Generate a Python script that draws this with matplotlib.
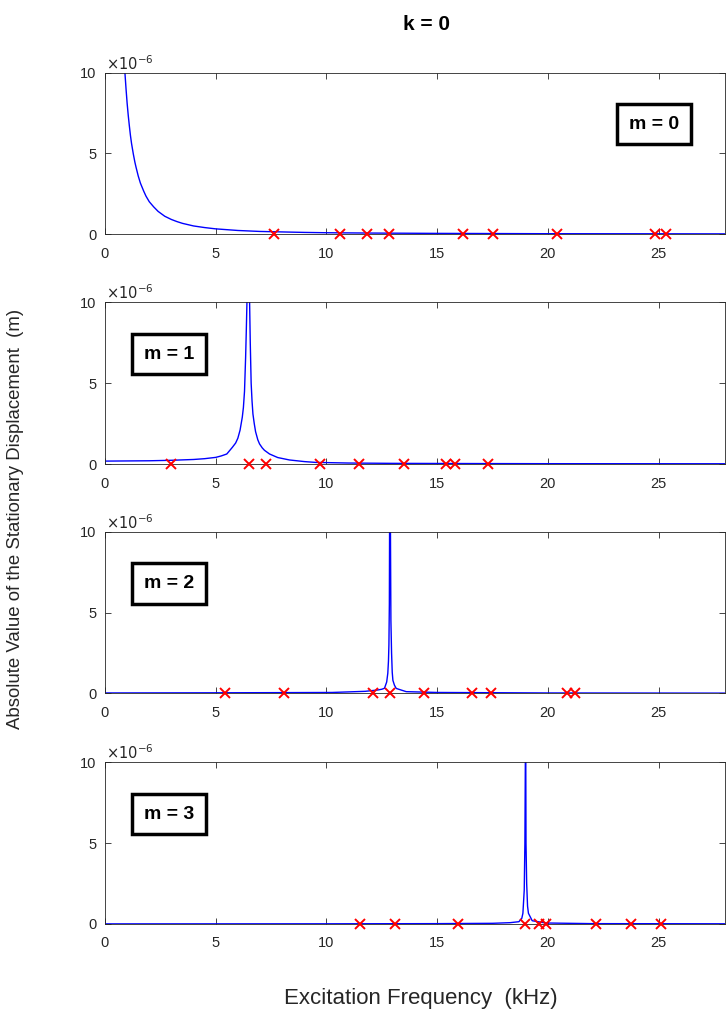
import matplotlib
matplotlib.use("Agg")
import matplotlib.pyplot as plt

plt.rcParams['font.family'] = ['Liberation Sans', 'DejaVu Sans']

# curve samples (kHz, 1e-6 m)
f0 = [0.9, 0.95, 1.0, 1.05, 1.1, 1.15, 1.2, 1.28, 1.35, 1.4, 1.5, 1.6, 1.75, 1.85, 2.0, 2.2, 2.4, 2.55, 2.7, 3.0,
      3.25, 3.5, 4.0, 4.5, 5.0, 5.5, 6, 7, 8, 9, 10, 12, 15, 20, 25, 28]
y0 = [10, 9.0, 8.1, 7.35, 6.7, 6.1, 5.6, 4.95, 4.45, 4.15, 3.6, 3.15, 2.65, 2.35, 2.0, 1.68, 1.4, 1.25, 1.1, 0.9,
      0.77, 0.66, 0.5, 0.4, 0.32, 0.27, 0.22, 0.16, 0.13, 0.1, 0.08, 0.06, 0.04, 0.02, 0.015, 0.01]

f1 = [0, 2, 3, 4, 4.5, 5, 5.25, 5.5, 5.75, 5.9, 6.0, 6.1, 6.2, 6.25, 6.3, 6.35, 6.38, 6.41, 6.47, 6.53, 6.56, 6.6,
      6.64, 6.68, 6.74, 6.8, 6.9, 6.98, 7.1, 7.2, 7.43, 7.8, 8.33, 9.0, 9.5, 11, 13, 16, 20, 28]
y1 = [0.18, 0.2, 0.23, 0.28, 0.33, 0.41, 0.5, 0.62, 1.03, 1.3, 1.6, 2.1, 2.9, 3.5, 4.5, 6.6, 8.2, 10, 60, 10, 7.5, 5.0,
      3.9, 3.1, 2.5, 2.0, 1.5, 1.24, 1.0, 0.85, 0.62, 0.4, 0.25, 0.15, 0.1, 0.06, 0.04, 0.03, 0.02, 0.015]

f2 = [0, 5, 8, 10.25, 11.75, 12.3, 12.5, 12.62, 12.72, 12.77, 12.8, 12.82, 12.84, 12.85, 12.87, 12.89, 12.91, 12.94,
      12.97, 13.0, 13.07, 13.15, 13.6, 15, 20, 28]
y2 = [0.02, 0.03, 0.04, 0.05, 0.12, 0.2, 0.25, 0.31, 0.7, 1.24, 2.0, 3.0, 5.5, 10, 60, 10, 4.5, 2.5,
      1.3, 0.8, 0.5, 0.3, 0.1, 0.05, 0.02, 0.01]

f3 = [0, 10, 15, 17.5, 18.3, 18.69, 18.82, 18.87, 18.93, 18.96, 18.98, 18.99, 19.0, 19.01, 19.04, 19.08, 19.12, 19.29,
      19.89, 22, 28]
y3 = [0.005, 0.01, 0.02, 0.04, 0.08, 0.14, 0.35, 0.66, 2.1, 5.0, 10, 60, 10, 5.0, 2.5, 1.1, 0.66, 0.2,
      0.06, 0.02, 0.01]

# natural frequencies (red crosses), kHz
nat0 = [7.65, 10.62, 11.81, 12.82, 16.17, 17.50, 20.40, 24.85, 25.32]
nat1 = [2.99, 6.52, 7.26, 9.70, 11.45, 13.52, 15.41, 15.79, 17.28]
nat2 = [5.42, 8.10, 12.12, 12.86, 14.40, 16.55, 17.43, 20.85, 21.21]
nat3 = [11.51, 13.11, 15.93, 18.96, 19.59, 19.91, 22.15, 23.75, 25.10]

labels = ['m = 0', 'm = 1', 'm = 2', 'm = 3']
curves = [(f0, y0), (f1, y1), (f2, y2), (f3, y3)]
nats = [nat0, nat1, nat2, nat3]

fig = plt.figure(figsize=(7.27, 10.14), dpi=100)
bottoms = [0.7692, 0.5424, 0.3163, 0.0888]

for i in range(4):
    ax = fig.add_axes([0.1444, bottoms[i], 0.853, 0.1593])
    fx, fy = curves[i]
    ax.plot(fx, fy, color='blue', lw=1.0)
    ax.plot(nats[i], [0] * len(nats[i]), 'x', color='red', ms=7.5, mew=1.4, clip_on=False, zorder=5)
    ax.set_xlim(0, 28)
    ax.set_ylim(0, 10)
    ax.set_xticks([0, 5, 10, 15, 20, 25])
    ax.set_yticks([0, 5, 10])
    ax.tick_params(direction='in', top=True, right=True, labelsize=10.5, length=4, width=0.6,
                   colors='#262626')
    ax.tick_params(axis='x', pad=9)
    ax.tick_params(axis='y', pad=6)
    for s in ax.spines.values():
        s.set_linewidth(0.6)
        s.set_color('#262626')
    ax.text(0.002, 1.0, r'$\times10^{-6}$', transform=ax.transAxes, ha='left', va='bottom', fontsize=10.5,
            color='#262626')
    bx = 0.885 if i == 0 else 0.103
    ax.text(bx, 0.68, labels[i], transform=ax.transAxes, ha='center', va='center', fontsize=14, fontweight='bold',
            bbox=dict(boxstyle='square,pad=0.6', fc='white', ec='black', lw=2.5))

fig.text(0.587, 0.976, 'k = 0', ha='center', va='center', fontsize=15, fontweight='bold')
fig.text(0.021, 0.488, 'Absolute Value of the Stationary Displacement  (m)', rotation=90, ha='center', va='center',
         fontsize=13.4, color='#262626')
fig.text(0.579, 0.015, 'Excitation Frequency  (kHz)', ha='center', va='center', fontsize=16, color='#262626')

fig.savefig('out.png', dpi=100)
